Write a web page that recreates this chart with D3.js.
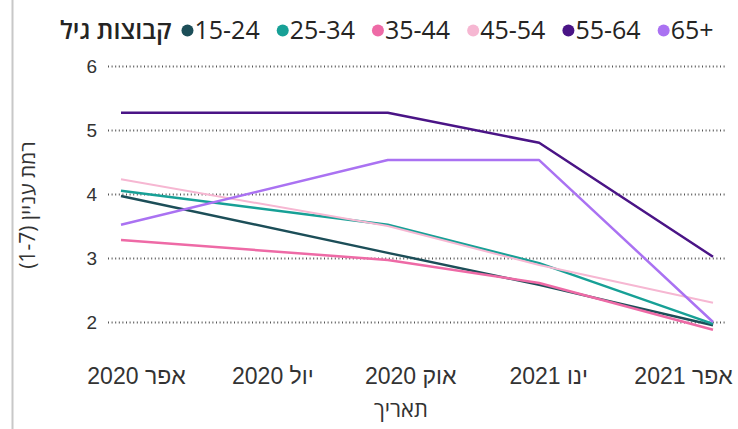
<!DOCTYPE html>
<html>
<head>
<meta charset="utf-8">
<script src="https://cdn.jsdelivr.net/npm/d3@7"></script>
<style>
  html, body { margin: 0; padding: 0; background: #fff; }
  svg { display: block; font-family: "Segoe UI", "Open Sans", "DejaVu Sans", sans-serif; }
</style>
</head>
<body>
<svg id="chart" width="738" height="429"></svg>
<script>
// Survey waves (date of each measurement)
const dates = ["2020-03-22", "2020-09-16", "2020-12-26", "2021-04-21"];

// Age groups and their colours
const groups = ["15-24", "25-34", "35-44", "45-54", "55-64", "65+"];
const colors = ["#1c4e58", "#17a096", "#ee6aa6", "#f6b7d2", "#4a1486", "#aa72f2"];

// Interest level (1-7) per age group, one value per wave
const v1524 = [3.97, 3.08, 2.58, 1.95];
const v2534 = [4.05, 3.52, 2.92, 1.97];
const v3544 = [3.28, 2.97, 2.61, 1.88];
const v4554 = [4.23, 3.50, 2.89, 2.30];
const v5564 = [5.27, 5.27, 4.80, 3.02];
const v65 = [3.52, 4.53, 4.53, 2.00];
const seriesValues = [v1524, v2534, v3544, v4554, v5564, v65];

// Axis ticks
const yTicks = [2, 3, 4, 5, 6];
const xTickDates = ["2020-04-01", "2020-07-01", "2020-10-01", "2021-01-01", "2021-04-01"];
const xTickLabels = ["אפר 2020", "יול 2020", "אוק 2020", "ינו 2021", "אפר 2021"];

const legendTitle = "קבוצות גיל";
const xTitle = "תאריך";
const yTitle = "רמת עניין (1-7)";

const svg = d3.select("#chart");
const parse = d3.utcParse("%Y-%m-%d");

const x = d3.scaleUtc()
  .domain([parse(dates[0]), parse(dates[dates.length - 1])])
  .range([121, 713]);
const y = d3.scaleLinear().domain([2, 6]).range([322, 66]);

// panel border on the left
svg.append("line")
  .attr("x1", 12.5).attr("x2", 12.5).attr("y1", 0).attr("y2", 429)
  .attr("stroke", "#c8c8c8").attr("stroke-width", 2);

// dotted horizontal gridlines + value labels
const yAxis = d3.axisLeft(y).tickValues(yTicks).tickSize(0).tickPadding(11)
  .tickFormat(d3.format("d"));
const gy = svg.append("g").attr("transform", "translate(108,0)").call(yAxis);
gy.select(".domain").remove();
gy.selectAll("text").attr("font-size", 19).attr("fill", "#333")
  .style("font-family", "inherit");
gy.selectAll(".tick").append("line")
  .attr("x1", 0).attr("x2", 617)
  .attr("stroke", "#555").attr("stroke-width", 2)
  .attr("stroke-dasharray", "1,2.6");

// time axis labels
const xAxis = d3.axisBottom(x)
  .tickValues(xTickDates.map(parse))
  .tickSize(0).tickPadding(0)
  .tickFormat((d, i) => xTickLabels[i]);
const gx = svg.append("g").attr("transform", "translate(0,368)").call(xAxis);
gx.select(".domain").remove();
gx.selectAll("text").attr("font-size", 23).attr("fill", "#333")
  .attr("direction", "rtl").style("font-family", "inherit");

// axis titles
svg.append("text")
  .attr("x", 401).attr("y", 417)
  .attr("text-anchor", "middle").attr("direction", "rtl")
  .attr("font-size", 22).attr("fill", "#333")
  .text(xTitle);

svg.append("text")
  .attr("transform", "translate(35,205) rotate(-90)")
  .attr("text-anchor", "middle").attr("direction", "rtl")
  .attr("font-size", 21).attr("fill", "#333")
  .text(yTitle);

// series lines
const line = d3.line()
  .x((d, i) => x(parse(dates[i])))
  .y(d => y(d));

svg.append("g")
  .selectAll("path")
  .data(seriesValues)
  .join("path")
  .attr("d", line)
  .attr("fill", "none")
  .attr("stroke", (d, i) => colors[i])
  .attr("stroke-width", (d, i) => (i === 3 ? 2 : 2.5))
  .attr("stroke-linejoin", "round");

// legend (title followed by dot + label for each group)
const lg = svg.append("g").attr("transform", "translate(0,39)");
const titleEl = lg.append("text")
  .attr("x", 60).attr("y", 0)
  .attr("direction", "rtl").attr("text-anchor", "end")
  .attr("font-size", 25).attr("font-weight", 600).attr("fill", "#252423")
  .text(legendTitle);
let cursor = 60 + titleEl.node().getComputedTextLength() + 10;
groups.forEach((g, i) => {
  lg.append("circle")
    .attr("cx", cursor + 6).attr("cy", -8.5).attr("r", 6)
    .attr("fill", colors[i]);
  const t = lg.append("text")
    .attr("x", cursor + 13).attr("y", 0)
    .attr("font-size", 25).attr("fill", "#252423")
    .text(g);
  cursor += 13 + t.node().getComputedTextLength() + 17;
});
</script>
</body>
</html>
